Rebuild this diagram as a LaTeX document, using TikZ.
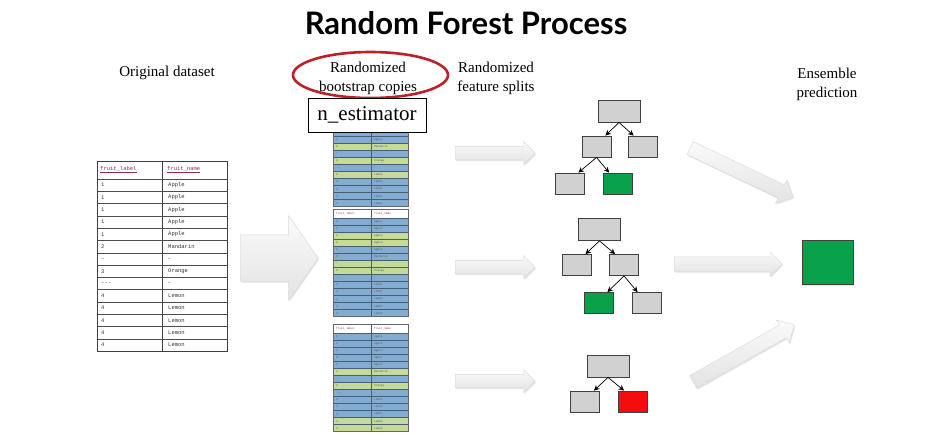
\documentclass[tikz,border=0pt]{standalone}
\usepackage{fontspec}
\setmainfont{Liberation Serif}
\setmonofont{Liberation Mono}
\newfontfamily\titlefont{Lato}
\usepackage{xcolor}
\usepackage{tikz}
\usetikzlibrary{shadows}
\usetikzlibrary{shapes,calc,backgrounds,arrows.meta}

\definecolor{rowblue}{RGB}{130,172,210}
\definecolor{rowgreen}{RGB}{197,217,153}
\colorlet{B}{rowblue}
\colorlet{G}{rowgreen}
\definecolor{leafgreen}{RGB}{8,160,72}
\definecolor{leafred}{RGB}{245,12,12}
\definecolor{nodegray}{RGB}{209,209,209}
\definecolor{ovalred}{RGB}{190,32,40}
\definecolor{headred}{RGB}{140,45,75}

\tikzset{
  treebox/.style={draw=black!75, fill=nodegray, line width=0.8pt, inner sep=0pt, minimum width=29, minimum height=21},
  rootbox/.style={treebox, minimum width=42, minimum height=22},
  treearrow/.style={-{Stealth[length=5.5pt,width=5.5pt]}, line width=0.7pt},
  fatarrow/.style={single arrow, anchor=tail, draw=gray!30, top color=gray!4, bottom color=gray!22, inner xsep=0pt,
    single arrow tip angle=90, drop shadow={shadow xshift=1pt, shadow yshift=-1.5pt, opacity=0.2}},
  cellA/.style={anchor=west, inner sep=0pt, text=black!80, font=\ttfamily\fontsize{5.5}{6}\selectfont},
  cellB/.style={anchor=west, inner sep=0pt, text=black!65, font=\ttfamily\fontsize{2.8}{3}\selectfont},
  headtext/.style={align=center, font=\fontsize{15}{19}\selectfont},
  bsline/.style={draw=rowblue!55!black, line width=0.4pt}
}

\def\fruits{1/Apple,1/Apple,1/Apple,1/Apple,1/Apple,2/Mandarin,{\ldots}/{\ldots},3/Orange,---/{\ldots},4/Lemon,4/Lemon,4/Lemon,4/Lemon,4/Lemon}

\begin{document}
\begin{tikzpicture}[x=1pt,y=-1pt]
    \fill[white] (0,0) rectangle (934,440);
    \useasboundingbox (0,0) rectangle (934,440);

    % headings
    \node[font=\titlefont\bfseries\fontsize{31}{36}\selectfont] (title) at (466,23) {Random Forest Process};
    \node[headtext] (orig) at (167,73) {Original dataset};
    \node[headtext] (boot) at (368,78) {Randomized\\bootstrap copies};
    \node[draw=ovalred, line width=2.6pt, ellipse, minimum width=155, minimum height=46] (bootoval) at (370.5,75) {};
    \node[headtext] (feat) at (496,78) {Randomized\\feature splits};
    \node[headtext] (ens) at (827,84) {Ensemble\\prediction};

    % original dataset table
    \node[cellA, text=headred] (hlab) at (100,170) {\underline{fruit\_label}};
    \node[cellA, text=headred] (hnam) at (167,170) {\underline{fruit\_name}};
    \foreach \lab/\nam [count=\i] in \fruits {
      \node[cellA] (olab\i) at (101,{179+12.3*(\i-0.5)}) {\lab};
      \node[cellA] (onam\i) at (168,{179+12.3*(\i-0.5)}) {\nam};
    }
    \foreach \i in {0,...,13}
      \draw[black!70, line width=0.6pt] (97,{179+12.3*\i}) -- (227,{179+12.3*\i});
    \draw[black!75, line width=0.9pt] (97,161) rectangle (227,351.2);
    \draw[black!75, line width=0.9pt] (162,161) -- (162,351.2);

    \node[fatarrow, inner ysep=23pt, minimum height=78, single arrow head extend=19, single arrow tip angle=110] (bigarrow) at (240,258) {};

    % bootstrap copies
    \foreach \ty/\cl/\hid in {99/{B,B,B,B,B,G,B,G,B,G,B,B,B,B}/3,209/{B,B,G,G,B,B,G,G,B,B,B,B,B,B}/0,324/{B,B,B,B,B,G,B,G,B,B,B,B,G,G}/0} {
      \fill[white] (333,\ty) rectangle (408,{\ty+9});
      \foreach \rc [count=\j] in \cl
        \fill[\rc] (333,{\ty+9+7.05*(\j-1)}) rectangle (408,{\ty+9+7.05*\j});
      \foreach \j in {0,...,13}
        \draw[bsline] (333,{\ty+9+7.05*\j}) -- (408,{\ty+9+7.05*\j});
      \draw[bsline] (371,\ty) -- (371,{\ty+107.7});
      \draw[black!60, line width=0.5pt] (333,\ty) rectangle (408,{\ty+107.7});
      \ifnum\hid=0
        \node[cellB, text=headred] at (336,{\ty+4.5}) {fruit\_label};
        \node[cellB, text=headred] at (374,{\ty+4.5}) {fruit\_name};
      \fi
      \foreach \lab/\nam [count=\j] in \fruits {
        \ifnum\j>\hid
          \node[cellB] at (336,{\ty+9+7.05*(\j-0.5)}) {\lab};
          \node[cellB] at (374,{\ty+9+7.05*(\j-0.5)}) {\nam};
        \fi
      }
    }
    \node[draw, fill=white, line width=1pt, minimum width=118, minimum height=34, inner sep=0pt,
      font=\fontsize{21}{24}\selectfont] (nest) at (367,115) {n\_estimator};

    % feature split arrows
    \foreach \yy [count=\i] in {153,267,381}
      \node[fatarrow, inner ysep=6.5pt, minimum height=80, single arrow head extend=5] (split\i) at (455,\yy) {};

    % tree 1
    \node[rootbox] (t1root) at (619,111) {};
    \node[treebox] (t1a) at (596.5,146.5) {};
    \node[treebox] (t1b) at (642.5,146.5) {};
    \node[treebox] (t1c) at (569.5,183.5) {};
    \node[treebox, fill=leafgreen] (t1d) at (618,183.5) {};
    \draw[treearrow] (t1root.south) -- ($(t1a.north)!0.6!(t1a.north east)$);
    \draw[treearrow] (t1root.south) -- ($(t1b.north)!0.6!(t1b.north west)$);
    \draw[treearrow] (t1a.south) -- ($(t1c.north)!0.6!(t1c.north east)$);
    \draw[treearrow] (t1a.south) -- ($(t1d.north)!0.6!(t1d.north west)$);

    % tree 2
    \node[rootbox] (t2root) at (599.5,229.5) {};
    \node[treebox] (t2a) at (576.5,265) {};
    \node[treebox] (t2b) at (624,265) {};
    \node[treebox, fill=leafgreen] (t2c) at (598.5,303) {};
    \node[treebox] (t2d) at (646.5,303) {};
    \draw[treearrow] (t2root.south) -- ($(t2a.north)!0.6!(t2a.north east)$);
    \draw[treearrow] (t2root.south) -- ($(t2b.north)!0.6!(t2b.north west)$);
    \draw[treearrow] (t2b.south) -- ($(t2c.north)!0.6!(t2c.north east)$);
    \draw[treearrow] (t2b.south) -- ($(t2d.north)!0.6!(t2d.north west)$);

    % tree 3
    \node[rootbox] (t3root) at (608,366) {};
    \node[treebox] (t3a) at (585,401.5) {};
    \node[treebox, fill=leafred] (t3b) at (633,401.5) {};
    \draw[treearrow] (t3root.south) -- ($(t3a.north)!0.6!(t3a.north east)$);
    \draw[treearrow] (t3root.south) -- ($(t3b.north)!0.6!(t3b.north west)$);

    % ensemble
    \node[fatarrow, inner ysep=7pt, minimum height=114, single arrow head extend=6, rotate=-25.4] (vote1) at (690,148) {};
    \node[fatarrow, inner ysep=7pt, minimum height=108, single arrow head extend=5] (vote2) at (674,264) {};
    \node[fatarrow, inner ysep=7pt, minimum height=116, single arrow head extend=6, rotate=29.4] (vote3) at (693,382) {};
    \node[draw=black!75, fill=leafgreen, line width=1pt, minimum width=51, minimum height=44, inner sep=0pt,
      drop shadow={shadow xshift=1pt, shadow yshift=-1.5pt, opacity=0.2}] (result) at (827.5,262) {};
\end{tikzpicture}
\end{document}
